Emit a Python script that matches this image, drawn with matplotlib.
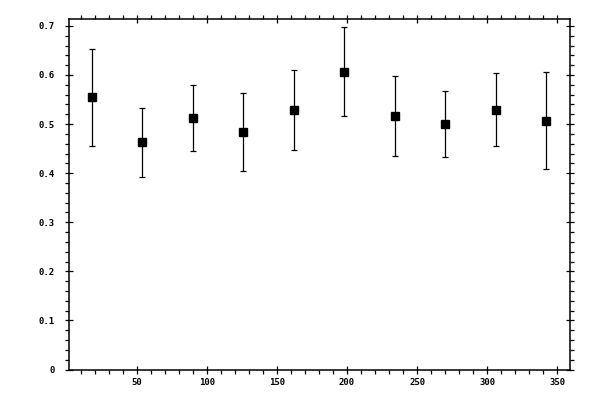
import matplotlib
matplotlib.use('Agg')
import matplotlib.pyplot as plt
from matplotlib.ticker import MultipleLocator, FuncFormatter

# angle bins and measured values
angle = [18, 54, 90, 126, 162, 198, 234, 270, 306, 342]
value = [0.555, 0.463, 0.512, 0.484, 0.529, 0.606, 0.516, 0.500, 0.529, 0.506]
err_top = [0.653, 0.533, 0.579, 0.563, 0.610, 0.698, 0.597, 0.567, 0.604, 0.606]
err_bot = [0.455, 0.392, 0.445, 0.404, 0.447, 0.516, 0.435, 0.433, 0.455, 0.408]

lo = [v - b for v, b in zip(value, err_bot)]
hi = [t - v for v, t in zip(value, err_top)]

plt.rcParams['font.family'] = 'DejaVu Sans Mono'
plt.rcParams['font.weight'] = 'bold'

fig = plt.figure(figsize=(6, 4), dpi=100)
ax = fig.add_axes([0.115, 0.075, 0.835, 0.8775])

ax.errorbar(angle, value, yerr=[lo, hi], fmt='s', color='black',
            markersize=5.5, capsize=2.5, elinewidth=0.9, capthick=0.9)

ax.set_xlim(1.8, 359)
ax.set_ylim(-0.001, 0.714)

ax.xaxis.set_major_locator(MultipleLocator(50))
ax.xaxis.set_minor_locator(MultipleLocator(10))
ax.yaxis.set_major_locator(MultipleLocator(0.1))
ax.yaxis.set_minor_locator(MultipleLocator(0.02))
ax.yaxis.set_major_formatter(FuncFormatter(lambda v, p: '0' if abs(v) < 1e-9 else '%.1f' % v))
ax.xaxis.set_major_formatter(FuncFormatter(lambda v, p: '' if v <= 0 else '%d' % v))

ax.tick_params(which='major', direction='inout', length=6, width=0.9,
               top=True, right=True, labelsize=6.5, pad=3)
ax.tick_params(which='minor', direction='out', length=3, width=0.9,
               top=True, right=True)
ax.tick_params(axis='y', which='major', pad=7)
for s in ax.spines.values():
    s.set_linewidth(1.1)

fig.savefig('out.png', dpi=100)
